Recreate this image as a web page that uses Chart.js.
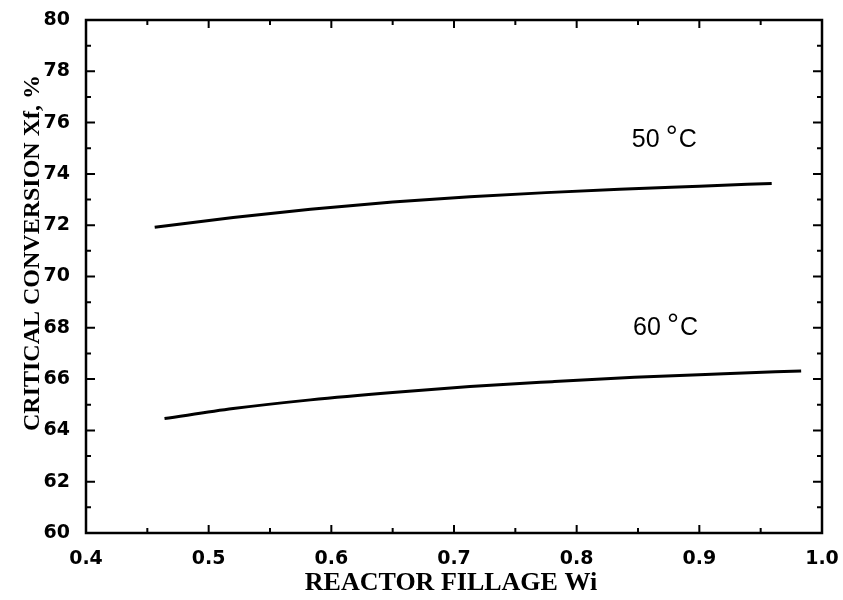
<!DOCTYPE html>
<html>
<head>
<meta charset="utf-8">
<script src="https://cdn.jsdelivr.net/npm/chart.js@4/dist/chart.umd.min.js"></script>
<style>
  html, body { margin: 0; padding: 0; background: #ffffff; }
  #wrap { width: 843px; height: 600px; }
</style>
</head>
<body>
<div id="wrap"><canvas id="conversion-chart" width="843" height="600"></canvas></div>
<script>
// Critical conversion vs. reactor fillage, two polymerisation temperatures
const FILLAGE_50C = [0.456, 0.52, 0.583, 0.65, 0.713, 0.775, 0.835, 0.9, 0.959];
const CONVERSION_50C = [71.92, 72.3, 72.62, 72.9, 73.11, 73.27, 73.4, 73.52, 73.63];

const FILLAGE_60C = [0.464, 0.52, 0.583, 0.65, 0.713, 0.78, 0.847, 0.92, 0.983];
const CONVERSION_60C = [64.46, 64.85, 65.19, 65.48, 65.71, 65.9, 66.07, 66.21, 66.32];

const SERIES_TEMPS = ["50", "60"];
// where each temperature note sits, in data units (left edge, baseline)
const NOTE_X = [0.845, 0.846];
const NOTE_Y = [75.05, 67.72];

const X_MIN = 0.4;
const X_MAX = 1.0;
const Y_MIN = 60;
const Y_MAX = 80;

const X_TITLE = "REACTOR FILLAGE Wi";
const Y_TITLE = "CRITICAL CONVERSION Xf, %";

const TICK_FONT = { family: "DejaVu Sans", size: 19, weight: "bold" };
const X_TITLE_FONT = "bold 26px 'Liberation Serif'";
const Y_TITLE_FONT = "bold 24px 'Liberation Serif'";
const NOTE_FONT = "25px 'Liberation Sans'";

function toPoints(xs, ys) {
  return xs.map((x, i) => ({ x: x, y: ys[i] }));
}

// frame on all four sides with inward major/minor ticks
const framePlugin = {
  id: "frame",
  afterDraw(chart) {
    const { ctx, chartArea, scales } = chart;
    const { left, right, top, bottom } = chartArea;
    ctx.save();
    ctx.strokeStyle = "#000";
    ctx.lineWidth = 2.5;
    ctx.strokeRect(left, top, right - left, bottom - top);

    ctx.lineWidth = 2;
    ctx.beginPath();
    for (let i = 0; i <= 12; i++) {
      const v = X_MIN + i * 0.05;
      const px = scales.x.getPixelForValue(v);
      const len = i % 2 === 0 ? 8 : 5;
      ctx.moveTo(px, bottom);
      ctx.lineTo(px, bottom - len);
      ctx.moveTo(px, top);
      ctx.lineTo(px, top + len);
    }
    for (let v = Y_MIN; v <= Y_MAX; v++) {
      const py = scales.y.getPixelForValue(v);
      const len = v % 2 === 0 ? 9 : 5;
      ctx.moveTo(left, py);
      ctx.lineTo(left + len, py);
      ctx.moveTo(right, py);
      ctx.lineTo(right - len, py);
    }
    ctx.stroke();
    ctx.restore();
  },
};

// axis titles and the temperature notes next to each curve
const textPlugin = {
  id: "texts",
  afterDraw(chart) {
    const { ctx, chartArea, scales } = chart;
    ctx.save();
    ctx.fillStyle = "#000";
    ctx.textAlign = "center";
    ctx.textBaseline = "middle";
    ctx.font = X_TITLE_FONT;
    ctx.fillText(X_TITLE, (chartArea.left + chartArea.right) / 2 - 3, 583);

    ctx.font = Y_TITLE_FONT;
    ctx.translate(33, 253);
    ctx.rotate(-Math.PI / 2);
    ctx.fillText(Y_TITLE, 0, 0);
    ctx.restore();

    ctx.save();
    ctx.fillStyle = "#000";
    ctx.textAlign = "left";
    ctx.textBaseline = "alphabetic";
    SERIES_TEMPS.forEach((temp, i) => {
      const px = scales.x.getPixelForValue(NOTE_X[i]);
      const py = scales.y.getPixelForValue(NOTE_Y[i]);
      ctx.font = NOTE_FONT;
      ctx.fillText(temp, px, py);
      ctx.font = "30px 'Liberation Sans'";
      ctx.fillText("\u00B0", px + 34, py - 1);
      ctx.font = NOTE_FONT;
      ctx.fillText("C", px + 47, py);
    });
    ctx.restore();
  },
};

function lineDataset(label, xs, ys) {
  return {
    label: label,
    data: toPoints(xs, ys),
    borderColor: "#000",
    borderWidth: 3,
    pointRadius: 0,
    cubicInterpolationMode: "monotone",
    fill: false,
  };
}

function createChart() {
  const canvas = document.getElementById("conversion-chart");
  if (!canvas || typeof Chart === "undefined") {
    return;
  }

  new Chart(canvas.getContext("2d"), {
    type: "line",
    data: {
      datasets: [
        lineDataset("50\u00B0C", FILLAGE_50C, CONVERSION_50C),
        lineDataset("60\u00B0C", FILLAGE_60C, CONVERSION_60C),
      ],
    },
    options: {
      responsive: false,
      animation: false,
      layout: {
        padding: { left: 0, top: 20, right: 21, bottom: 0 },
      },
      plugins: {
        legend: { display: false },
        tooltip: { enabled: false },
      },
      scales: {
        x: {
          type: "linear",
          min: X_MIN,
          max: X_MAX,
          grid: { display: false },
          border: { display: false },
          ticks: {
            stepSize: 0.1,
            color: "#000",
            font: TICK_FONT,
            padding: 7,
            maxRotation: 0,
            callback: (value) => value.toFixed(1),
          },
          afterFit(scale) {
            scale.height = 67;
            scale.paddingLeft = 0;
            scale.paddingRight = 0;
          },
        },
        y: {
          type: "linear",
          min: Y_MIN,
          max: Y_MAX,
          grid: { display: false },
          border: { display: false },
          ticks: {
            stepSize: 2,
            color: "#000",
            font: TICK_FONT,
            padding: 8,
          },
          afterFit(scale) {
            scale.width = 86;
            scale.paddingTop = 0;
            scale.paddingBottom = 0;
          },
        },
      },
    },
    plugins: [framePlugin, textPlugin],
  });
}

window.addEventListener("DOMContentLoaded", createChart);
</script>
</body>
</html>
